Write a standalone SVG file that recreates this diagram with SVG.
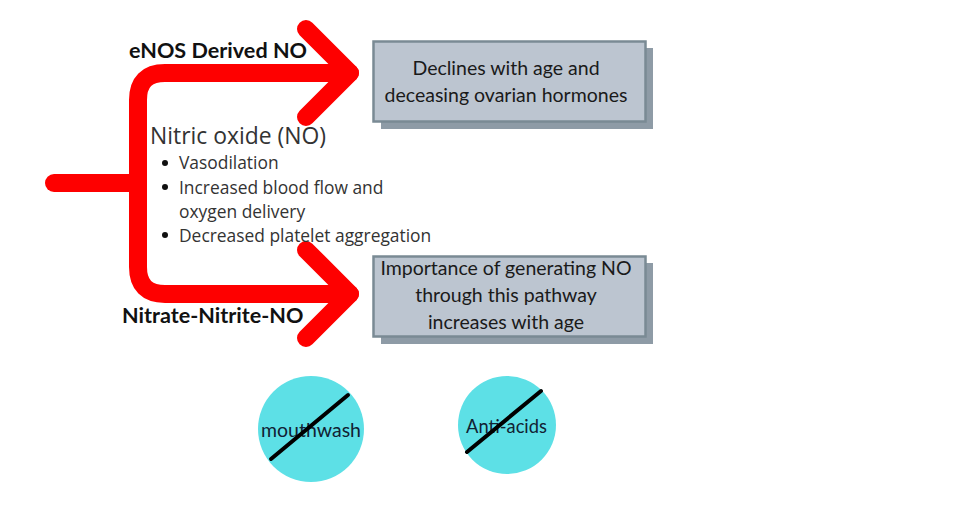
<svg xmlns="http://www.w3.org/2000/svg" width="975" height="513" viewBox="0 0 975 513">
<style>
.red{fill:none;stroke:#fe0000;stroke-width:18px;stroke-linecap:round;stroke-linejoin:round}
.box{fill:#bcc5d0;stroke:#7a8a94;stroke-width:2.5px}
.sh{fill:#8e9ba6}
.t{font-family:Lato,sans-serif;fill:#1a1a1a;font-size:19.500px;text-anchor:middle}
.b{font-family:Lato,sans-serif;font-weight:700;fill:#111;font-size:21.600px}
.o{font-family:"Open Sans",sans-serif;fill:#333}
.c{fill:#5de0e6}
.x{stroke:#000;stroke-width:4px;stroke-linecap:round}
</style>
<rect width="975" height="513" fill="#fff"/>
<g id="connectors">
<path class="red" d="M54 183H138"/>
<path class="red" d="M350 73H165Q138 73 138 100V267Q138 294 165 294H350"/>
<path class="red" d="M306 29L350 73L306 117"/>
<path class="red" d="M306 250L350 294L306 338"/>
</g>
<g id="label-enos"><text class="b" x="129" y="58">eNOS Derived NO</text></g>
<g id="label-nitrate"><text class="b" x="122" y="323">Nitrate-Nitrite-NO</text></g>
<g id="node-no">
<text class="o" x="150" y="144" font-size="22.900">Nitric oxide (NO)</text>
<circle cx="165" cy="163" r="3" fill="#111"/>
<circle cx="165" cy="187" r="3" fill="#111"/>
<circle cx="165" cy="235" r="3" fill="#111"/>
<text class="o" x="179" y="169" font-size="17.400">Vasodilation</text>
<text class="o" x="179" y="194" font-size="17.400">Increased blood flow and</text>
<text class="o" x="179" y="218" font-size="17.400">oxygen delivery</text>
<text class="o" x="179" y="242" font-size="17.400">Decreased platelet aggregation</text>
</g>
<g id="node-declines">
<rect class="sh" x="381" y="48" width="272" height="81"/>
<rect class="box" x="373.500" y="41.500" width="272" height="80"/>
<text class="t" x="506" y="75">Declines with age and</text>
<text class="t" x="506" y="102">deceasing ovarian hormones</text>
</g>
<g id="node-importance">
<rect class="sh" x="381" y="263" width="272" height="81"/>
<rect class="box" x="373.500" y="256.500" width="272" height="80"/>
<text class="t" x="506" y="275">Importance of generating NO</text>
<text class="t" x="506" y="302">through this pathway</text>
<text class="t" x="506" y="329">increases with age</text>
</g>
<g id="node-mouthwash">
<circle class="c" cx="311" cy="429" r="53"/>
<text class="t" x="311" y="437" style="fill:#123">mouthwash</text>
<line class="x" x1="271" y1="459" x2="348" y2="395"/>
</g>
<g id="node-antacids">
<circle class="c" cx="507" cy="425" r="49"/>
<text class="t" x="506.500" y="433" style="fill:#123;font-size:18.300px">Anti-acids</text>
<line class="x" x1="467" y1="452" x2="541" y2="391"/>
</g>
</svg>
